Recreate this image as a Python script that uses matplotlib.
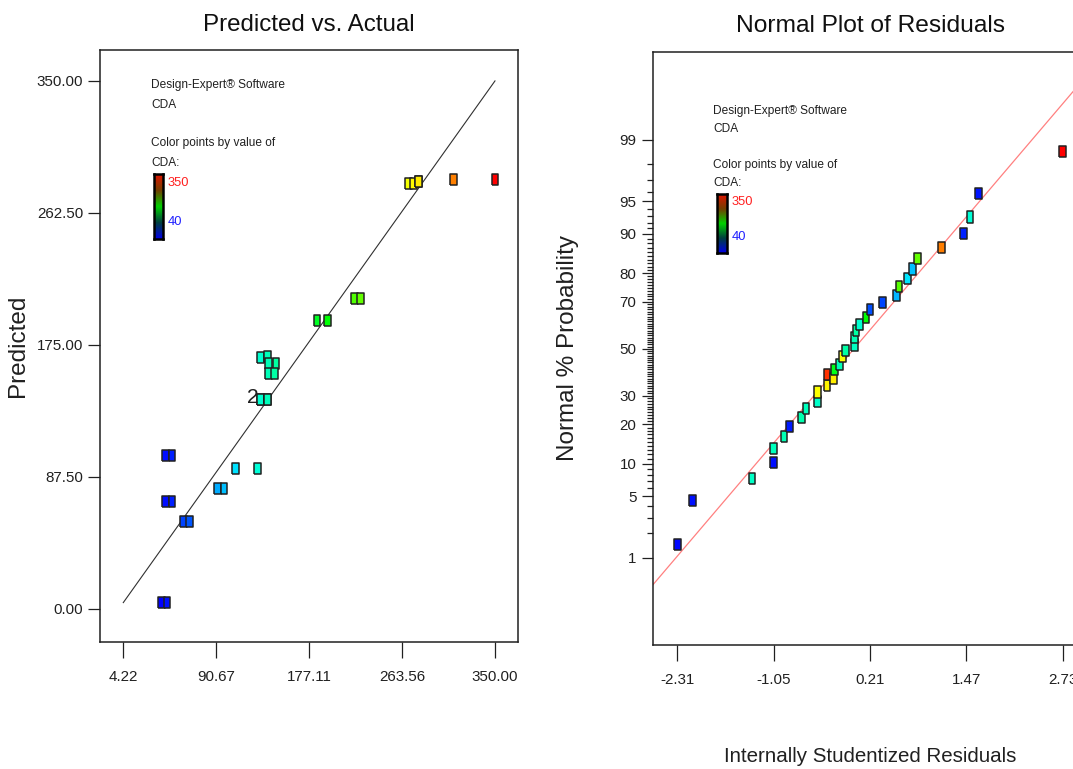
import numpy as np
import matplotlib
matplotlib.use("Agg")
import matplotlib.pyplot as plt
from matplotlib import font_manager
from matplotlib.colors import hsv_to_rgb, LinearSegmentedColormap
from matplotlib.ticker import FixedLocator, NullFormatter
from statistics import NormalDist

# ---------------- data: Predicted vs. Actual ----------------
actual = [40.0, 44.9, 43.7, 49.5, 43.7, 49.5, 60.4, 66.0,
          92.0, 97.9, 108.8, 129.2,
          132.0, 132.0, 138.2, 138.2,
          132.0, 138.5, 139.7, 146.3, 139.1, 145.1,
          184.4, 194.0, 219.1, 225.0,
          269.3, 274.0, 278.6, 278.6, 311.2, 350.0]
predicted = [4.22, 4.22, 71.2, 71.2, 101.8, 101.8, 58.0, 58.0,
             80.1, 80.1, 93.0, 93.0,
             138.8, 138.8, 138.8, 138.8,
             166.5, 167.5, 162.9, 162.9, 156.2, 156.2,
             191.2, 191.2, 205.8, 205.8,
             282.0, 282.0, 283.1, 283.1, 284.4, 284.4]
duplicate_label = "2"
duplicate_index = 12
pa_xticks = [4.22, 90.67, 177.11, 263.56, 350.00]
pa_yticks = [0.00, 87.50, 175.00, 262.50, 350.00]

# ---------------- data: Normal plot of residuals ----------------
residuals = [-2.31, -2.114, -1.333, -1.055, -1.055, -0.915, -0.845, -0.683,
             -0.627, -0.479, -0.474, -0.352, -0.352, -0.270, -0.257, -0.192,
             -0.147, -0.113, 0.005, 0.005, 0.027, 0.070, 0.158, 0.210,
             0.376, 0.559, 0.589, 0.703, 0.763, 0.834, 1.148, 1.430,
             1.518, 1.631, 2.73]
normal_prob = [1.48, 4.51, 7.48, 10.3, 13.4, 16.4, 19.3, 22.3,
               25.4, 27.8, 31.5, 34.0, 38.6, 37.0, 40.7, 42.9,
               46.5, 49.2, 51.7, 55.0, 58.0, 60.5, 63.8, 67.0,
               69.6, 72.5, 75.7, 78.3, 81.3, 84.2, 87.1, 90.1,
               92.9, 95.8, 98.6]
residual_cda = [42, 45, 135, 44, 138, 140, 48, 142,
                138, 134, 272, 276, 335, 278, 188, 140,
                270, 145, 136, 140, 146, 132, 195, 64,
                61, 95, 221, 110, 99, 225, 312, 50,
                130, 46, 350]
res_xticks = [-2.31, -1.05, 0.21, 1.47, 2.73]
prob_ticks = [1, 5, 10, 20, 30, 50, 70, 80, 90, 95, 99]
prob_minor = list(range(1, 100))
cda_min, cda_max = 40, 350

# ---------------- fonts ----------------
names = {f.name for f in font_manager.fontManager.ttflist}
if "Liberation Sans Narrow" in names:
    NARROW, ns = "Liberation Sans Narrow", 1.0
else:
    NARROW, ns = "Liberation Sans", 0.84
REG = "Liberation Sans"
plt.rcParams["font.family"] = [NARROW, "DejaVu Sans"]

W, H = 1073, 769
fig = plt.figure(figsize=(W / 100, H / 100), dpi=100)


def cda_color(v):
    h = (2.0 / 3.0) * (cda_max - v) / (cda_max - cda_min)
    return hsv_to_rgb([min(max(h, 0), 2 / 3), 1.0, 1.0])


rect = [(-0.62, -1), (0.62, -1), (0.62, 1), (-0.62, 1), (-0.62, -1)]
legend_cmap = LinearSegmentedColormap.from_list(
    "de", [(0.0, (0.0, 0.0, 0.9)), (0.25, (0.0, 0.25, 0.25)),
           (0.5, (0.0, 0.82, 0.0)), (0.75, (0.45, 0.25, 0.0)),
           (1.0, (0.88, 0.08, 0.0))])


def style_axes(ax):
    for s in ax.spines.values():
        s.set_linewidth(1.1)
        s.set_color("#202020")


def legend(ax, tx, ty, dy1, dy2, dy3, cb, lx, ly350, ly40):
    kw = dict(transform=ax.transAxes, fontsize=10.2 * ns, ha="left", va="center", color="#202020")
    ax.text(tx, ty, "Design-Expert® Software", **kw)
    ax.text(tx, ty - dy1, "CDA", **kw)
    ax.text(tx, ty - dy2, "Color points by value of", **kw)
    ax.text(tx, ty - dy3, "CDA:", **kw)
    cax = ax.inset_axes(cb)
    cax.imshow(np.linspace(1, 0, 100).reshape(-1, 1), cmap=legend_cmap, aspect="auto")
    cax.set_xticks([])
    cax.set_yticks([])
    for s in cax.spines.values():
        s.set_linewidth(1.8)
        s.set_color("black")
    ax.text(lx, ly350, str(cda_max), transform=ax.transAxes, fontsize=11 * ns,
            color="#ff2020", ha="left", va="center")
    ax.text(lx, ly40, str(cda_min), transform=ax.transAxes, fontsize=11 * ns,
            color="#2020ff", ha="left", va="center")


# ================= left: Predicted vs. Actual =================
ax1 = fig.add_axes([100 / W, 1 - 641.7 / H, 418.3 / W, 591.7 / H])
style_axes(ax1)
ax1.plot([min(actual + predicted), max(actual + predicted)],
         [min(actual + predicted), max(actual + predicted)],
         color="#303030", lw=0.8, zorder=2)
ax1.scatter(actual, predicted, marker=rect, s=64,
            c=[cda_color(v) for v in actual], edgecolors="#202020",
            linewidths=1.1, zorder=3)
ax1.annotate(duplicate_label, xy=(actual[duplicate_index], predicted[duplicate_index]),
             xytext=(-2, 2), textcoords="offset pixels", ha="right", va="center",
             fontsize=18 * ns, color="#202020", zorder=4)
ax1.set_xlim(-17.45, 371.7)
ax1.set_ylim(-21.7, 370.5)
ax1.set_xticks(pa_xticks)
ax1.set_xticklabels([f"{v:.2f}" for v in pa_xticks])
ax1.set_yticks(pa_yticks)
ax1.set_yticklabels([f"{v:.2f}" for v in pa_yticks])
ax1.tick_params(axis="x", length=11.5, width=0.9, pad=9, labelsize=13 * ns, colors="#202020")
ax1.tick_params(axis="y", length=8.6, width=0.9, pad=3.6, labelsize=13 * ns, colors="#202020")
ax1.text(0.5, 1 + (51.7 - 27) / 591.7, "Predicted vs. Actual", transform=ax1.transAxes,
         ha="center", va="center", fontsize=20.7 * ns, color="#101010")
ax1.text(-0.196, 0.5, "Predicted", transform=ax1.transAxes, rotation=90,
         ha="center", va="center", fontsize=17.5, family=REG, color="#202020")
legend(ax1, 0.122, 0.941, 0.034, 0.098, 0.132,
       [0.1298, 0.6806, 0.0215, 0.1094], 0.161, 0.776, 0.709)

# ================= right: Normal plot of residuals =================
_nd = NormalDist()
_ppf = np.vectorize(_nd.inv_cdf, otypes=[float])
_cdf = np.vectorize(_nd.cdf, otypes=[float])


def _fwd(p):
    p = np.clip(np.asarray(p, float) / 100.0, 1e-9, 1 - 1e-9)
    return _ppf(p)


def _inv(z):
    return _cdf(np.asarray(z, float)) * 100.0


ax2 = fig.add_axes([652.7 / W, 1 - 645 / H, 434.6 / W, 593.3 / H])
style_axes(ax2)
ax2.set_yscale("function", functions=(_fwd, _inv))
xlo, xhi = -2.632, 3.052
ax2.set_xlim(xlo, xhi)
ax2.set_ylim(float(_inv(-3.30)), float(_inv(3.31)))
zline = np.linspace(xlo, xhi, 200)
ax2.plot(zline, _inv(zline), color="#ff8080", lw=0.9, zorder=2)
ax2.scatter(residuals, normal_prob, marker=rect, s=64,
            c=[cda_color(v) for v in residual_cda], edgecolors="#202020",
            linewidths=1.1, zorder=3, clip_on=False)
ax2.set_xticks(res_xticks)
ax2.set_xticklabels([f"{v:.2f}" for v in res_xticks])
ax2.yaxis.set_major_locator(FixedLocator(prob_ticks))
ax2.set_yticklabels([str(v) for v in prob_ticks])
ax2.yaxis.set_minor_locator(FixedLocator(prob_minor))
ax2.yaxis.set_minor_formatter(NullFormatter())
ax2.tick_params(axis="x", length=11.5, width=0.9, pad=9, labelsize=13 * ns, colors="#202020")
ax2.tick_params(axis="y", which="major", length=8.0, width=0.9, pad=3.6, labelsize=13 * ns, colors="#202020")
ax2.tick_params(axis="y", which="minor", length=4.3, width=0.9, colors="#202020")
ax2.text(0.5, 1 + (51.7 - 26) / 593.3, "Normal Plot of Residuals", transform=ax2.transAxes,
         ha="center", va="center", fontsize=21 * ns, color="#101010")
ax2.text(-0.195, 0.5, "Normal % Probability", transform=ax2.transAxes, rotation=90,
         ha="center", va="center", fontsize=17.5, family=REG, color="#202020")
ax2.text(0.5, -(757 - 645) / 593.3, "Internally Studentized Residuals", transform=ax2.transAxes,
         ha="center", va="center", fontsize=17.6 * ns, color="#202020")
legend(ax2, 0.139, 0.9006, 0.0316, 0.0916, 0.1226,
       [0.147, 0.661, 0.0244, 0.099], 0.182, 0.747, 0.687)

fig.savefig("out.png", dpi=100)
